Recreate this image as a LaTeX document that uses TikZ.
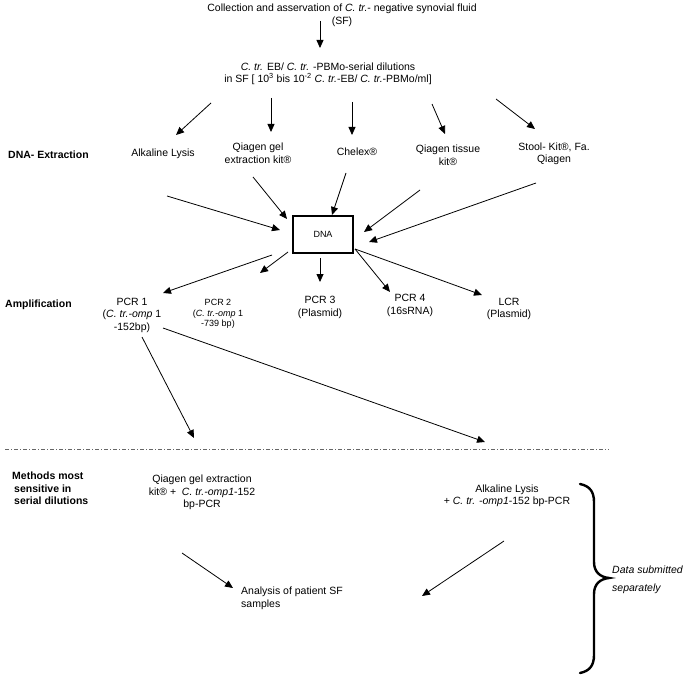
\documentclass[tikz,border=0pt]{standalone}
\usepackage{fontspec}
\setmainfont{Liberation Sans}
\usetikzlibrary{arrows.meta}
\tikzset{
  txt/.style={inner sep=0pt, align=center, font=\fontsize{10.5}{12.5}\selectfont},
  small/.style={inner sep=0pt, align=center, font=\fontsize{9}{10.5}\selectfont},
  lbl/.style={inner sep=0pt, align=left, font=\fontsize{10.5}{12.5}\selectfont\bfseries},
  arr/.style={line width=0.8pt, -{Triangle[length=8pt,width=7pt]}},
  dnabox/.style={draw, line width=1.2pt, minimum width=60pt, minimum height=37pt, inner sep=0pt, font=\fontsize{9}{10}\selectfont},
  sep/.style={line width=0.9pt, draw=black!60, dash pattern=on 4pt off 2pt on 1pt off 2pt},
  bracestyle/.style={line width=2.4pt, line cap=round}
}
\begin{document}
\begin{tikzpicture}[x=1pt,y=-1pt]
\useasboundingbox (0,0) rectangle (685,679);
% texts
\node[txt] (title) at (342,15.5) {Collection and asservation of \textit{C. tr.}- negative synovial fluid\\(SF)};
\node[txt] (dil) at (328,74) {\textit{C. tr.} EB/ \textit{C. tr.} -PBMo-serial dilutions\\in SF [ 10\textsuperscript{3} bis 10\textsuperscript{-2} \textit{C. tr.}-EB/ \textit{C. tr.}-PBMo/ml]};
\node[lbl, anchor=west] (dnaext) at (8,155) {DNA- Extraction};
\node[txt] (alk) at (163,154) {Alkaline Lysis};
\node[txt] (qgel) at (258,153) {Qiagen gel\\extraction kit®};
\node[txt] (chelex) at (357,152) {Chelex®};
\node[txt] (qtis) at (448,155) {Qiagen tissue\\kit®};
\node[txt] (stool) at (554,154) {Stool- Kit®, Fa.\\Qiagen};
\node[dnabox] (dna) at (323,234.5) {DNA};
\node[lbl, anchor=west] (amp) at (5,305) {Amplification};
\node[txt] (pcr1) at (132,315) {PCR 1\\(\textit{C. tr.-omp} 1\\-152bp)};
\node[small] (pcr2) at (218,314) {PCR 2\\(\textit{C. tr.-omp} 1\\-739 bp)};
\node[txt] (pcr3) at (320,307.5) {PCR 3\\(Plasmid)};
\node[txt] (pcr4) at (410,305.5) {PCR 4\\(16sRNA)};
\node[txt] (lcr) at (509,309) {LCR\\(Plasmid)};
\node[lbl, anchor=west] (methods) at (12,488.5) {Methods most\\\hspace{2pt}sensitive in\\\hspace{2pt}serial dilutions};
\node[txt] (qgelpcr) at (202,492.5) {Qiagen gel extraction\\kit® +\ \ \textit{C. tr.-omp1}-152\\bp-PCR};
\node[txt] (alkpcr) at (507,496) {Alkaline Lysis\\+ \textit{C. tr. -omp1}-152 bp-PCR};
\node[txt, align=left, anchor=west] (analysis) at (241,598.5) {Analysis of patient SF\\samples};
\node[inner sep=0pt, align=left, anchor=west, font=\fontsize{10.5}{18}\selectfont\itshape] (data) at (612,580) {Data submitted\\separately};
% connector end points
\coordinate (a0s) at (320,21);  \coordinate (a0e) at (320,48);
\coordinate (a1s) at (211,103); \coordinate (a1e) at (176,135);
\coordinate (a2s) at (271,98);  \coordinate (a2e) at (271,132);
\coordinate (a3s) at (352,102); \coordinate (a3e) at (352,135);
\coordinate (a4s) at (432,104); \coordinate (a4e) at (445,134);
\coordinate (a5s) at (496,99);  \coordinate (a5e) at (535,129);
\coordinate (b1s) at (167,196); \coordinate (b1e) at (280,230);
\coordinate (b2s) at (253,177); \coordinate (b2e) at (287,219);
\coordinate (b3s) at (346,173); \coordinate (b3e) at (332,215);
\coordinate (b4s) at (420,190); \coordinate (b4e) at (364,232);
\coordinate (b5s) at (536,183); \coordinate (b5e) at (369,242);
\coordinate (c1s) at (272,255); \coordinate (c1e) at (163,293);
\coordinate (c2s) at (288,252); \coordinate (c2e) at (260,273);
\coordinate (c3s) at (320,258); \coordinate (c3e) at (320,282);
\coordinate (c4s) at (355,249); \coordinate (c4e) at (390,292);
\coordinate (c5e) at (482,295);
\coordinate (d1s) at (142,337); \coordinate (d1e) at (194,438);
\coordinate (d2s) at (163,328); \coordinate (d2e) at (485,442);
\coordinate (e1s) at (182,553); \coordinate (e1e) at (233,588);
\coordinate (e2s) at (504,541); \coordinate (e2e) at (422,596);
\coordinate (sepl) at (5,449);  \coordinate (sepr) at (609,449);
% arrows
\draw[arr] (a0s) -- (a0e);
\draw[arr] (a1s) -- (a1e);
\draw[arr] (a2s) -- (a2e);
\draw[arr] (a3s) -- (a3e);
\draw[arr] (a4s) -- (a4e);
\draw[arr] (a5s) -- (a5e);
\draw[arr] (b1s) -- (b1e);
\draw[arr] (b2s) -- (b2e);
\draw[arr] (b3s) -- (b3e);
\draw[arr] (b4s) -- (b4e);
\draw[arr] (b5s) -- (b5e);
\draw[arr] (c1s) -- (c1e);
\draw[arr] (c2s) -- (c2e);
\draw[arr] (c3s) -- (c3e);
\draw[arr] (c4s) -- (c4e);
\draw[arr] (c4s) -- (c5e);
\draw[arr] (d1s) -- (d1e);
\draw[arr] (d2s) -- (d2e);
\draw[arr] (e1s) -- (e1e);
\draw[arr] (e2s) -- (e2e);
% separator
\draw[sep] (sepl) -- (sepr);
% brace
\draw[bracestyle] (580,484) .. controls (590,486) and (594,492) .. (594,502)
  -- (594,562) .. controls (594,572) and (600,577) .. (609,578)
  .. controls (600,579) and (594,584) .. (594,594)
  -- (594,655) .. controls (594,665) and (590,671) .. (580,673);
\end{tikzpicture}
\end{document}
